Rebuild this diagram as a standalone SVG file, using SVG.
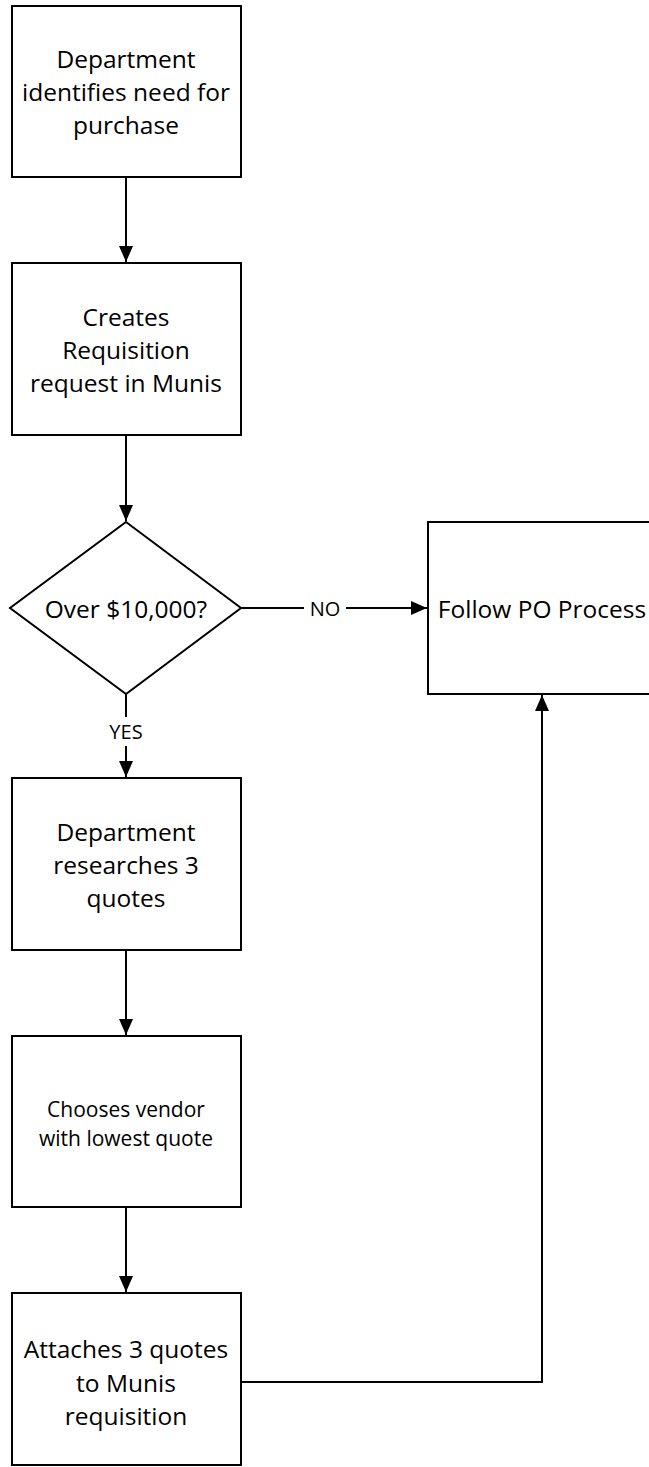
<svg xmlns="http://www.w3.org/2000/svg" width="649" height="1467" viewBox="0 0 649 1467">
<style>
.n{fill:#fff;stroke:#000;stroke-width:2}
.t{font-family:"Open Sans","Liberation Sans",sans-serif;font-size:24.5px;fill:#000;text-anchor:middle;dominant-baseline:central}
.s{font-size:21px}
.l{font-family:"Open Sans","Liberation Sans",sans-serif;font-size:20px;fill:#000;text-anchor:middle;dominant-baseline:central}
.c{fill:none;stroke:#000;stroke-width:2}
</style>
<defs>
<marker id="b" viewBox="0 0 16 16" refX="16" refY="8" markerWidth="16" markerHeight="16" markerUnits="userSpaceOnUse" orient="auto"><path d="M0,1 L16,8 L0,15 z" fill="#000"/></marker>
</defs>
<g id="connectors">
<line class="c" x1="126" y1="177" x2="126" y2="262" marker-end="url(#b)"/>
<line class="c" x1="126" y1="435" x2="126" y2="521" marker-end="url(#b)"/>
<line class="c" x1="241" y1="608" x2="304" y2="608"/>
<line class="c" x1="346" y1="608" x2="427" y2="608" marker-end="url(#b)"/>
<text class="l" x="325" y="608">NO</text>
<line class="c" x1="126" y1="694" x2="126" y2="717"/>
<line class="c" x1="126" y1="746" x2="126" y2="777" marker-end="url(#b)"/>
<text class="l" x="126" y="731">YES</text>
<line class="c" x1="126" y1="950" x2="126" y2="1035" marker-end="url(#b)"/>
<line class="c" x1="126" y1="1207" x2="126" y2="1292" marker-end="url(#b)"/>
<polyline class="c" points="241,1382 542,1382 542,695" marker-end="url(#b)"/>
</g>
<g id="n1"><rect class="n" x="12" y="6" width="229" height="171"/>
<text class="t" x="126" y="58">Department</text><text class="t" x="126" y="91">identifies need for</text><text class="t" x="126" y="124">purchase</text></g>
<g id="n2"><rect class="n" x="12" y="263" width="229" height="172"/>
<text class="t" x="126" y="316">Creates</text><text class="t" x="126" y="349">Requisition</text><text class="t" x="126" y="382">request in Munis</text></g>
<g id="n3"><polygon class="n" points="126,522 241,608 126,694 10,608"/>
<text class="t" x="126" y="608">Over $10,000?</text></g>
<g id="n4"><rect class="n" x="428" y="522" width="229" height="172"/>
<text class="t" x="542" y="608">Follow PO Process</text></g>
<g id="n5"><rect class="n" x="12" y="778" width="229" height="172"/>
<text class="t" x="126" y="831">Department</text><text class="t" x="126" y="864">researches 3</text><text class="t" x="126" y="897">quotes</text></g>
<g id="n6"><rect class="n" x="12" y="1036" width="229" height="171"/>
<text class="t s" x="126" y="1109">Chooses vendor</text><text class="t s" x="126" y="1138">with lowest quote</text></g>
<g id="n7"><rect class="n" x="12" y="1293" width="229" height="172"/>
<text class="t" x="126" y="1348">Attaches 3 quotes</text><text class="t" x="126" y="1382">to Munis</text><text class="t" x="126" y="1415">requisition</text></g>
</svg>
